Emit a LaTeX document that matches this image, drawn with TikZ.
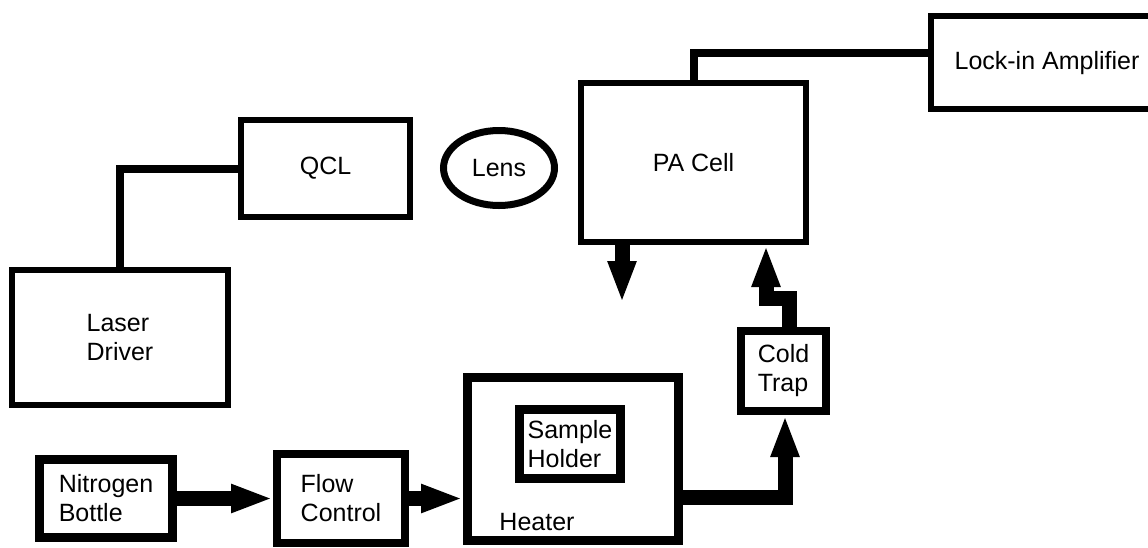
\documentclass[tikz,border=0pt]{standalone}
\usepackage{fontspec}
\setmainfont{Liberation Sans}
\usetikzlibrary{arrows.meta,shapes.geometric}
\begin{document}
\begin{tikzpicture}[x=1pt,y=-1pt,
  lbl/.style={font=\fontsize{25}{29}\selectfont, inner sep=0pt},
  box/.style={lbl, draw=black, rectangle, line join=miter},
  thinbox/.style={box, line width=6pt},
  thickbox/.style={box, line width=9pt},
  conn/.style={line width=8pt, line join=miter},
  flowarrow/.style={line width=15pt, line join=miter, -{Triangle[length=42pt,width=26pt]}},
]
\fill[white] (0,0) rectangle (1148,547);
\useasboundingbox (0,0) rectangle (1148,547);

% top row
\node[thinbox, minimum width=269pt, minimum height=93pt] (lockin) at (1065.5,62.5) {};
\node[lbl] (lockinlabel) at (1047,63) {Lock-in Amplifier};
\node[thinbox, minimum width=225pt, minimum height=159pt] (pacell) at (693.5,162.5) {PA Cell};
\node[thinbox, minimum width=169pt, minimum height=97pt] (qcl) at (325.5,168.5) {QCL};
\node[lbl, draw=black, ellipse, line width=7pt, minimum width=111pt, minimum height=75pt] (lens) at (499,168) {Lens};
\node[thinbox, align=left, minimum width=216pt, minimum height=135pt] (driver) at (120,337.5) {Laser\\Driver};

% bottom row
\node[thickbox, align=left, minimum width=133pt, minimum height=78pt] (nitrogen) at (106,498.5) {Nitrogen\\Bottle};
\node[thickbox, align=left, line width=8pt, minimum width=128pt, minimum height=89pt] (flowctl) at (341,498.5) {Flow\\Control};
\node[thickbox, minimum width=211pt, minimum height=163pt] (heater) at (573,459) {};
\node[lbl] (heaterlabel) at (537,522) {Heater};
\node[thickbox, align=left, minimum width=101pt, minimum height=69pt] (sample) at (570,444) {Sample\\Holder};
\node[thickbox, align=left, line width=8pt, minimum width=85pt, minimum height=80pt] (coldtrap) at (783.5,371) {Cold\\Trap};

% electrical connectors
\draw[conn] (driver.north) |- (qcl.west);
\draw[conn] (pacell.north) |- ([yshift=10pt]lockin.west);

% gas flow
\coordinate (pout) at (622,303);
\coordinate (j1) at (789,298);
\coordinate (j2) at (766,298);
\coordinate (h1) at (785,497);
\draw[flowarrow] (nitrogen) -- (flowctl);
\draw[flowarrow] (flowctl.east) -- (heater.west |- flowctl.east);
\draw[flowarrow] (heater.east |- h1) -- (h1) -- (h1 |- coldtrap.south);
\draw[flowarrow] (coldtrap.north -| j1) -- (j1) -- (j2) -- (j2 |- pacell.south);
\draw[flowarrow] (pacell.south -| pout) -- (pout);
\end{tikzpicture}
\end{document}
